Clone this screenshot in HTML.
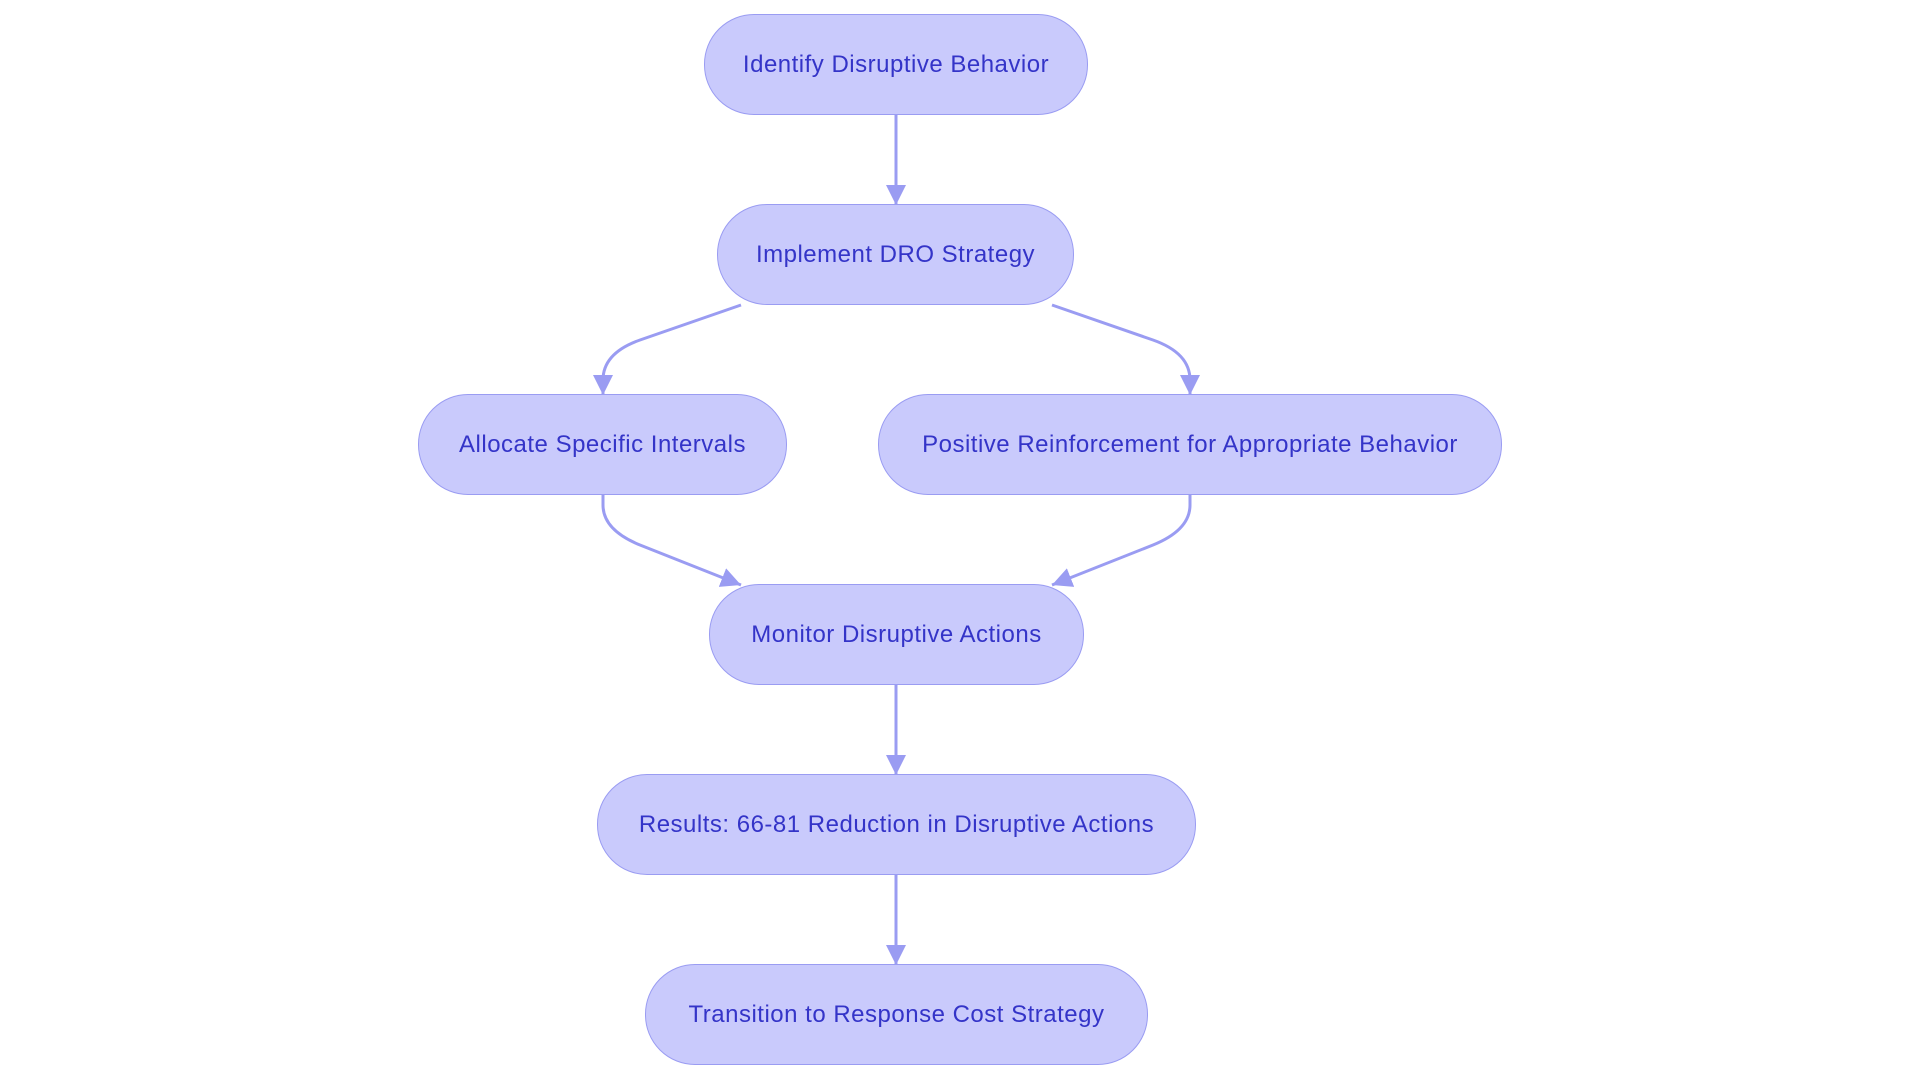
<html><head><style>body{margin:0;background:#fff;width:1920px;height:1083px;overflow:hidden}
.n{position:absolute;box-sizing:border-box;background:#c9cafc;border:1.5px solid #9a9cf2;border-radius:50px;display:flex;align-items:center;justify-content:center;font:24px "Liberation Sans",sans-serif;letter-spacing:0.5px;color:#3434c8;height:101px;white-space:nowrap}
</style></head><body>
<svg width="1920" height="1083" style="position:absolute;left:0;top:0">
<defs><marker id="b" viewBox="0 0 10 10" markerWidth="20" markerHeight="20" refX="10" refY="5" orient="auto" markerUnits="userSpaceOnUse"><path d="M0,0 L10,5 L0,10z" fill="#9a9cf2"/></marker></defs>
<g stroke="#9a9cf2" stroke-width="3" fill="none" marker-end="url(#b)">
<path d="M896,115 L896,205"/>
<path d="M741,305 L640,340 Q603,353 603,380 L603,395"/>
<path d="M1052,305 L1153,340 Q1190,353 1190,380 L1190,395"/>
<path d="M603,495 L603,505 Q603,530 640,545 L741,585"/>
<path d="M1190,495 L1190,505 Q1190,530 1153,545 L1052,585"/>
<path d="M896,685 L896,775"/>
<path d="M896,875 L896,965"/>
</g></svg>
<div class="n" style="left:704px;top:14px;width:384px">Identify Disruptive Behavior</div>
<div class="n" style="left:717px;top:204px;width:357px">Implement DRO Strategy</div>
<div class="n" style="left:418px;top:394px;width:369px">Allocate Specific Intervals</div>
<div class="n" style="left:878px;top:394px;width:624px">Positive Reinforcement for Appropriate Behavior</div>
<div class="n" style="left:709px;top:584px;width:375px">Monitor Disruptive Actions</div>
<div class="n" style="left:597px;top:774px;width:599px">Results: 66-81 Reduction in Disruptive Actions</div>
<div class="n" style="left:645px;top:964px;width:503px">Transition to Response Cost Strategy</div>
</body></html>
